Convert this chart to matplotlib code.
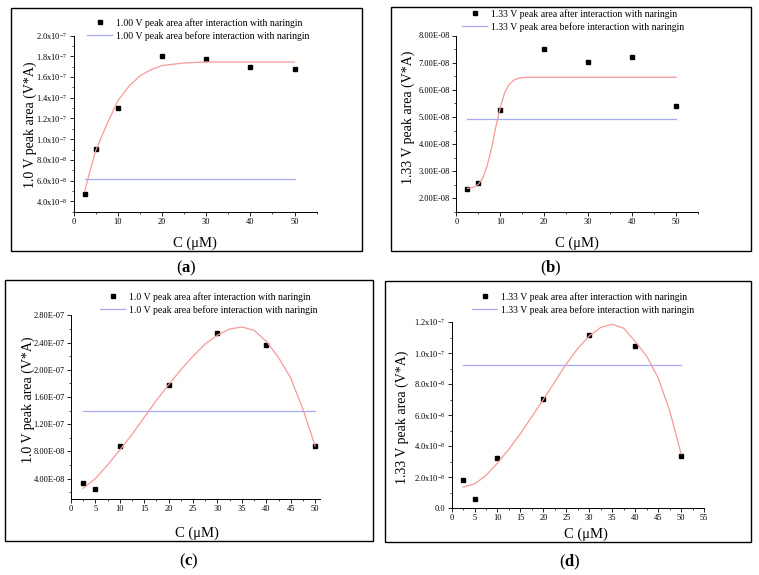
import matplotlib
matplotlib.use('Agg')
import matplotlib.pyplot as plt
from matplotlib.patches import Rectangle
from matplotlib.ticker import MultipleLocator, AutoMinorLocator, FuncFormatter

plt.rcParams['font.family'] = ['Liberation Serif', 'DejaVu Serif']
plt.rcParams['mathtext.fontset'] = 'custom'
plt.rcParams['mathtext.rm'] = 'Liberation Serif'
plt.rcParams['mathtext.it'] = 'Liberation Serif:italic'
plt.rcParams['mathtext.bf'] = 'Liberation Serif:bold'

W, H = 759, 575

# measured concentrations (uM)
conc = [2.5, 5, 10, 20, 30, 40, 50]

# (a) 1.00 V peak
after_a = [4.75e-8, 9.03e-8, 1.30e-7, 1.805e-7, 1.775e-7, 1.70e-7, 1.68e-7]
before_a = 6.13e-8
fit_x_a = [2.5, 3.5, 5, 6, 7.5, 10, 12.5, 15, 17.5, 20, 25, 30, 40, 50]
fit_y_a = [4.95e-8, 6.6e-8, 8.9e-8, 9.9e-8, 1.14e-7, 1.37e-7, 1.51e-7, 1.61e-7,
           1.67e-7, 1.71e-7, 1.735e-7, 1.745e-7, 1.745e-7, 1.745e-7]

# (b) 1.33 V peak
after_b = [2.35e-8, 2.56e-8, 5.25e-8, 7.51e-8, 7.02e-8, 7.19e-8, 5.41e-8]
before_b = 4.93e-8
fit_x_b = [2.5, 4, 5, 6, 7, 8, 9, 10, 11, 12, 13, 14, 16, 20, 30, 50]
fit_y_b = [2.37e-8, 2.42e-8, 2.52e-8, 2.75e-8, 3.2e-8, 3.85e-8, 4.65e-8, 5.35e-8,
           5.9e-8, 6.2e-8, 6.35e-8, 6.42e-8, 6.46e-8, 6.46e-8, 6.46e-8, 6.46e-8]

# (c) 1.0 V peak
after_c = [3.4e-8, 2.5e-8, 8.77e-8, 1.77e-7, 2.54e-7, 2.37e-7, 8.77e-8]
before_c = 1.394e-7
fit_x_c = [2.5, 5, 7.5, 10, 12.5, 15, 17.5, 20, 22.5, 25, 27.5, 30, 32.5, 35,
           37.5, 40, 42.5, 45, 47.5, 50]
fit_y_c = [2.55e-8, 4.0e-8, 6.0e-8, 8.2e-8, 1.05e-7, 1.30e-7, 1.55e-7, 1.78e-7,
           2.0e-7, 2.2e-7, 2.38e-7, 2.51e-7, 2.6e-7, 2.63e-7, 2.58e-7, 2.42e-7,
           2.18e-7, 1.88e-7, 1.42e-7, 8.8e-8]

# (d) 1.33 V peak
after_d = [1.83e-8, 0.61e-8, 3.25e-8, 7.03e-8, 1.113e-7, 1.047e-7, 3.38e-8]
before_d = 9.21e-8
fit_x_d = fit_x_c
fit_y_d = [1.35e-8, 1.55e-8, 2.1e-8, 2.9e-8, 3.8e-8, 4.8e-8, 5.9e-8, 7.0e-8,
           8.15e-8, 9.3e-8, 1.03e-7, 1.11e-7, 1.165e-7, 1.185e-7, 1.16e-7, 1.075e-7,
           9.8e-8, 8.4e-8, 6.3e-8, 3.5e-8]


def sci_x10(v, pos):
    if v == 0:
        return '0.0'
    e = 0
    m = v
    while abs(m) >= 10:
        m /= 10
        e += 1
    while abs(m) < 1:
        m *= 10
        e -= 1
    return '%.1fx10$^{%d}$' % (m, e)


def sci_E(v, pos):
    return '%.2E' % v


def px(x, y):
    return x / W, 1 - y / H


fig = plt.figure(figsize=(W / 100, H / 100), dpi=100)

panels = [
    dict(box=(11, 8, 362, 251), ax=(73.6, 35.5, 316.6, 211.8), after=after_a, before=before_a,
         fx=fit_x_a, fy=fit_y_a, ylim=(3.0e-8, 2.0e-7), ystep=2e-8, xlim=(0, 55), xstep=10,
         fmt=sci_x10, ylabel='1.0 V peak area (V*A)', ylab=(30, 125), xlab=(195, 243),
         leg='1.00 V', legpos=(87, 18), tag='a', tagpos=(186, 268)),
    dict(box=(391, 7, 751, 251), ax=(456.4, 35.5, 698, 212), after=after_b, before=before_b,
         fx=fit_x_b, fy=fit_y_b, ylim=(1.5e-8, 8.0e-8), ystep=1e-8, xlim=(0, 55), xstep=10,
         fmt=sci_E, ylabel='1.33 V peak area (V*A)', ylab=(408, 117), xlab=(577, 243),
         leg='1.33 V', legpos=(462, 9), tag='b', tagpos=(551, 268)),
    dict(box=(5, 280, 373, 541), ax=(71, 315.4, 320, 498.9), after=after_c, before=before_c,
         fx=fit_x_c, fy=fit_y_c, ylim=(1.0e-8, 2.8e-7), ystep=4e-8, xlim=(0, 51), xstep=5,
         fmt=sci_E, ylabel='1.0 V peak area (V*A)', ylab=(28, 400), xlab=(197, 533),
         leg='1.0 V', legpos=(100, 292), tag='c', tagpos=(189, 561)),
    dict(box=(385, 281, 751, 542), ax=(451.6, 322, 704, 508), after=after_d, before=before_d,
         fx=fit_x_d, fy=fit_y_d, ylim=(0, 1.2e-7), ystep=2e-8, xlim=(0, 55), xstep=5,
         fmt=sci_x10, ylabel='1.33 V peak area (V*A)', ylab=(402, 417), xlab=(586, 534),
         leg='1.33 V', legpos=(472, 292), tag='d', tagpos=(570, 562)),
]

for p in panels:
    bx0, by0, bx1, by1 = p['box']
    fig.add_artist(Rectangle(px(bx0, by1), (bx1 - bx0) / W, (by1 - by0) / H,
                             transform=fig.transFigure, fill=False, lw=1.0, ec='black'))
    l, t, r, b = p['ax']
    ax = fig.add_axes([l / W, 1 - b / H, (r - l) / W, (b - t) / H])

    ax.plot(conc, p['after'], ls='none', marker='s', ms=3.5, color='black',
            label=p['leg'] + ' peak area after interaction with naringin')
    ax.plot([conc[0], conc[-1]], [p['before'], p['before']], color='#a8a8f5', lw=0.9,
            label=p['leg'] + ' peak area before interaction with naringin')
    ax.plot(p['fx'], p['fy'], color='#f59a9a', lw=0.9)

    ax.set_xlim(*p['xlim'])
    ax.set_ylim(*p['ylim'])
    ax.xaxis.set_major_locator(MultipleLocator(p['xstep']))
    ax.xaxis.set_minor_locator(AutoMinorLocator(2))
    ax.yaxis.set_major_locator(MultipleLocator(p['ystep']))
    ax.yaxis.set_minor_locator(AutoMinorLocator(2))
    ax.yaxis.set_major_formatter(FuncFormatter(p['fmt']))
    ax.spines['top'].set_visible(False)
    ax.spines['right'].set_visible(False)
    for s in ('left', 'bottom'):
        ax.spines[s].set_linewidth(0.7)
    ax.tick_params(which='major', direction='out', length=3, width=0.6, labelsize=6, pad=1.5)
    ax.tick_params(which='minor', direction='out', length=1.6, width=0.5)

    lx, ly = px(*p['legpos'])
    ax.legend(loc='upper left', bbox_to_anchor=(lx, ly), bbox_transform=fig.transFigure,
              frameon=False, fontsize=7, handlelength=2.6, handletextpad=0.4,
              borderpad=0, borderaxespad=0, labelspacing=0.35, numpoints=1)

    fig.text(*px(*p['ylab']), p['ylabel'], rotation=90, ha='center', va='center', fontsize=10)
    fig.text(*px(*p['xlab']), 'C (\u03bcM)', ha='center', va='center', fontsize=10.5)
    fig.text(*px(*p['tagpos']), r'($\mathbf{%s}$)' % p['tag'], ha='center', va='center',
             fontsize=12)

plt.savefig('out.png', dpi=100)
